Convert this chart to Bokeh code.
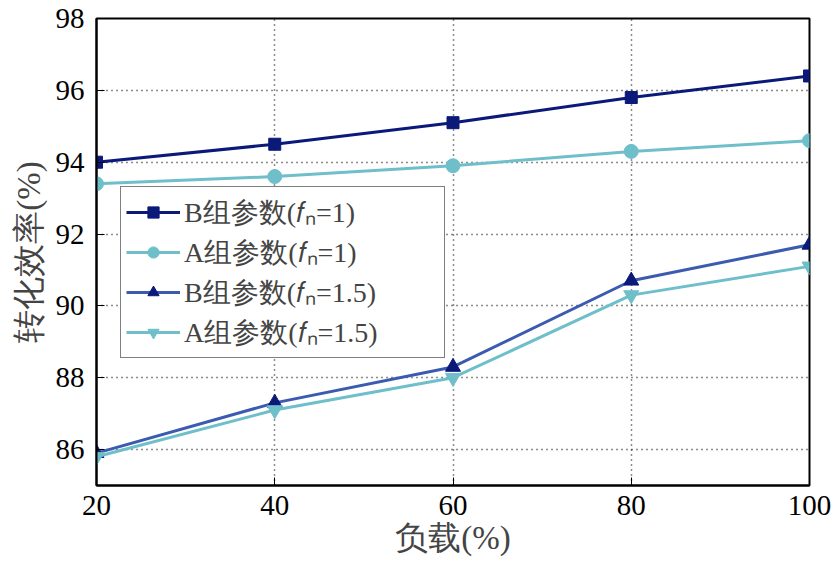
from bokeh.plotting import figure
from bokeh.models import Legend, LegendItem, FixedTicker, Range1d
from bokeh.embed import file_html
from bokeh.resources import INLINE

load = [20, 40, 60, 80, 100]
b_fn1 = [94.0, 94.5, 95.1, 95.8, 96.4]
a_fn1 = [93.4, 93.6, 93.9, 94.3, 94.6]
b_fn15 = [85.9, 87.3, 88.3, 90.7, 91.7]
a_fn15 = [85.8, 87.1, 88.0, 90.3, 91.1]
labels = ["B组参数(𝑓ₙ=1)", "A组参数(𝑓ₙ=1)", "B组参数(𝑓ₙ=1.5)", "A组参数(𝑓ₙ=1.5)"]
x_ticks = [20, 40, 60, 80, 100]
y_ticks = [86, 88, 90, 92, 94, 96, 98]

FONT = "Liberation Serif"
NAVY = "#0b1a78"
TEAL = "#6fbfca"
MID = "#3a5bb0"

p = figure(width=834, height=570, output_backend="svg", toolbar_location=None,
           x_range=Range1d(20, 100), y_range=Range1d(85, 98),
           min_border_left=96, min_border_right=25, min_border_top=18, min_border_bottom=85)
p.outline_line_color = "black"
p.outline_line_width = 2

r1l = p.line(load, b_fn1, line_color=NAVY, line_width=3)
r1m = p.scatter(load, b_fn1, marker="square", size=12, fill_color=NAVY, line_color=NAVY)
r2l = p.line(load, a_fn1, line_color=TEAL, line_width=3)
r2m = p.scatter(load, a_fn1, marker="circle", size=14, fill_color=TEAL, line_color=TEAL)
r3l = p.line(load, b_fn15, line_color=MID, line_width=3)
r3m = p.scatter(load, b_fn15, marker="triangle", size=15, fill_color=NAVY, line_color=NAVY)
r4l = p.line(load, a_fn15, line_color=TEAL, line_width=3)
r4m = p.scatter(load, a_fn15, marker="inverted_triangle", size=15, fill_color=TEAL, line_color=TEAL)

for ax in (p.xaxis[0], p.yaxis[0]):
    ax.major_label_text_font = FONT
    ax.major_label_text_font_size = "29px"
    ax.major_label_text_color = "black"
    ax.axis_label_text_font = FONT
    ax.axis_label_text_font_size = "33px"
    ax.axis_label_text_font_style = "normal"
    ax.axis_line_color = "black"
    ax.axis_line_width = 2
    ax.major_tick_in = 8
    ax.major_tick_out = 0
    ax.minor_tick_line_color = None
    ax.major_tick_line_color = "black"
    ax.major_tick_line_width = 1

p.xaxis[0].ticker = FixedTicker(ticks=x_ticks)
p.yaxis[0].ticker = FixedTicker(ticks=y_ticks)
p.xaxis[0].axis_label = "负载(%)"
p.yaxis[0].axis_label = "转化效率(%)"
p.xaxis[0].major_label_standoff = 10
p.yaxis[0].major_label_standoff = 12
p.xaxis[0].axis_label_standoff = 2
p.yaxis[0].axis_label_standoff = 6

p.xgrid.grid_line_color = "black"
p.ygrid.grid_line_color = "black"
p.xgrid.grid_line_dash = "1 4"
p.ygrid.grid_line_dash = "1 4"
p.xgrid.grid_line_width = 1.5
p.ygrid.grid_line_width = 1.5
p.xgrid.grid_line_alpha = 0.9
p.ygrid.grid_line_alpha = 0.9

legend = Legend(items=[
    LegendItem(label=labels[0], renderers=[r1l, r1m]),
    LegendItem(label=labels[1], renderers=[r2l, r2m]),
    LegendItem(label=labels[2], renderers=[r3l, r3m]),
    LegendItem(label=labels[3], renderers=[r4l, r4m]),
], location=(24, 127))
legend.label_text_font = FONT
legend.label_text_font_size = "28px"
legend.label_height = 28
legend.label_width = 255
legend.border_line_color = "black"
legend.border_line_width = 1.5
legend.padding = 5
legend.spacing = 0
legend.margin = 0
legend.glyph_width = 54
legend.glyph_height = 28
legend.label_standoff = 4
legend.background_fill_alpha = 1
p.add_layout(legend, "center")

open("out.html", "w").write(file_html(p, INLINE))
